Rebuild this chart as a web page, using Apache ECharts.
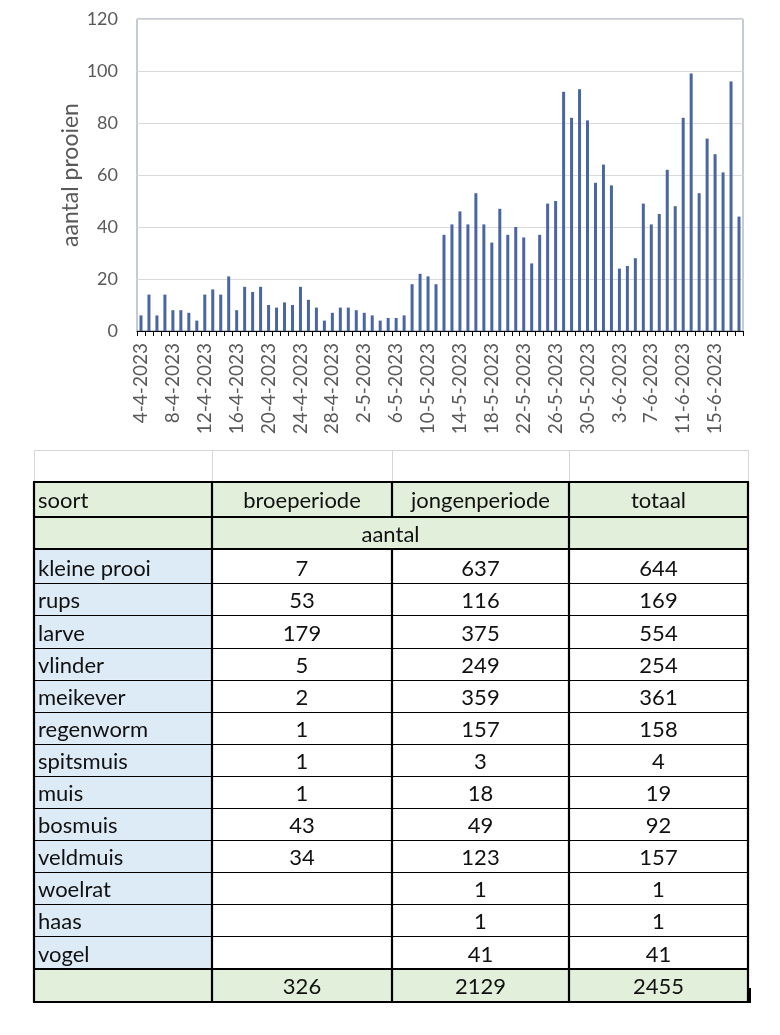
<!DOCTYPE html>
<html>
<head>
<meta charset="utf-8">
<script src="https://cdn.jsdelivr.net/npm/echarts@6/dist/echarts.min.js"></script>
<style>
html,body{margin:0;padding:0;background:#fff;}
#c{width:780px;height:1035px;}
</style>
</head>
<body>
<div id="c"></div>
<script>
// ---- chart data ----
const dates = [
'4-4-2023','5-4-2023','6-4-2023','7-4-2023','8-4-2023','9-4-2023','10-4-2023','11-4-2023','12-4-2023','13-4-2023',
'14-4-2023','15-4-2023','16-4-2023','17-4-2023','18-4-2023','19-4-2023','20-4-2023','21-4-2023','22-4-2023','23-4-2023',
'24-4-2023','25-4-2023','26-4-2023','27-4-2023','28-4-2023','29-4-2023','30-4-2023',
'1-5-2023','2-5-2023','3-5-2023','4-5-2023','5-5-2023','6-5-2023','7-5-2023','8-5-2023','9-5-2023','10-5-2023',
'11-5-2023','12-5-2023','13-5-2023','14-5-2023','15-5-2023','16-5-2023','17-5-2023','18-5-2023','19-5-2023','20-5-2023',
'21-5-2023','22-5-2023','23-5-2023','24-5-2023','25-5-2023','26-5-2023','27-5-2023','28-5-2023','29-5-2023','30-5-2023','31-5-2023',
'1-6-2023','2-6-2023','3-6-2023','4-6-2023','5-6-2023','6-6-2023','7-6-2023','8-6-2023','9-6-2023','10-6-2023',
'11-6-2023','12-6-2023','13-6-2023','14-6-2023','15-6-2023','16-6-2023','17-6-2023','18-6-2023'
];
const prooien = [
6,14,6,14,8,8,7,4,14,16,14,21,8,17,15,17,10,9,11,10,17,12,9,4,7,9,
9,8,7,6,4,5,5,6,
18,22,21,18,37,41,46,41,53,41,34,47,37,40,36,26,37,
49,50,92,82,93,81,57,64,56,24,25,28,49,41,45,62,48,82,99,53,74,68,61,96,44
];
const yTicks = {min:0, max:120, step:20};
const yTitle = 'aantal prooien';

// ---- table data ----
const tableHeader = ['soort','broeperiode','jongenperiode','totaal'];
const unitLabel = 'aantal';
const soort = ['kleine prooi','rups','larve','vlinder','meikever','regenworm','spitsmuis','muis','bosmuis','veldmuis','woelrat','haas','vogel'];
const broeperiode = [7,53,179,5,2,1,1,1,43,34,null,null,null];
const jongenperiode = [637,116,375,249,359,157,3,18,49,123,1,1,41];
const totaal = [644,169,554,254,361,158,4,19,92,157,1,1,41];
const totalen = [326,2129,2455];

// ---- table layout ----
const colX = [34, 212, 392, 569, 748];
const emptyTop = 450, headTop = 482, unitTop = 517, dataLine = 549;
const rowH = 32.1;
const dataTop = 551.2;
const totalTop = dataTop + soort.length * rowH;
const tableBottom = 1002;
const green = '#e2efda', blue = '#ddebf7';
const FONT = 'Lato, "Open Sans", sans-serif';
const tFont = '22px ' + FONT;

const G = [];
function rect(x, y, w, h, fill) { G.push({type:'rect', silent:true, shape:{x, y, width:w, height:h}, style:{fill}}); }
function line(x1, y1, x2, y2, stroke, lw) { G.push({type:'line', silent:true, shape:{x1, y1, x2, y2}, style:{stroke, lineWidth:lw}}); }
function text(x, y, s, align) { G.push({type:'text', silent:true, x, y, style:{text:String(s), font:tFont, fill:'#111', align, verticalAlign:'middle'}}); }

// fills
rect(colX[0], headTop, colX[4]-colX[0], dataLine-headTop, green);
for (let i = 0; i < soort.length; i++) {
  const y0 = i === 0 ? dataLine : dataTop + i*rowH;
  rect(colX[0], y0, colX[1]-colX[0], dataTop + (i+1)*rowH - y0, blue);
}
rect(colX[0], totalTop, colX[4]-colX[0], tableBottom-totalTop, green);

// empty row light grid
const grey = '#d6d6d6';
line(colX[0], emptyTop+0.5, colX[4], emptyTop+0.5, grey, 1);
colX.forEach(x => line(x+0.5, emptyTop, x+0.5, headTop, grey, 1));

// thin data row separators
for (let i = 1; i < soort.length; i++) {
  const y = Math.round(dataTop + i*rowH) + 0.5;
  line(colX[0], y, colX[4], y, '#000', 1);
}
// thick horizontals
[headTop, unitTop, dataLine, Math.round(totalTop), tableBottom].forEach(y => line(colX[0]-1, y, colX[4]+1, y, '#000', 2.2));
// thick verticals
[colX[0], colX[1], colX[3], colX[4]].forEach(x => line(x, headTop, x, tableBottom, '#000', 2.2));
line(colX[2], headTop, colX[2], unitTop, '#000', 2.2);
line(colX[2], dataLine, colX[2], tableBottom, '#000', 2.2);
rect(colX[4]-1, tableBottom-14, 4, 15, '#000');

// texts
const cx = i => (colX[i] + colX[i+1]) / 2;
const tx = colX[0] + 4;
text(tx, (headTop+unitTop)/2 + 1, tableHeader[0], 'left');
for (let c = 1; c < 4; c++) text(cx(c), (headTop+unitTop)/2 + 1, tableHeader[c], 'center');
text((colX[1]+colX[3])/2, (unitTop+dataLine)/2 + 1.5, unitLabel, 'center');
for (let i = 0; i < soort.length; i++) {
  const yc = dataTop + i*rowH + rowH/2 + 2;
  text(tx, yc, soort[i], 'left');
  if (broeperiode[i] != null) text(cx(1), yc, broeperiode[i], 'center');
  if (jongenperiode[i] != null) text(cx(2), yc, jongenperiode[i], 'center');
  if (totaal[i] != null) text(cx(3), yc, totaal[i], 'center');
}
for (let c = 0; c < 3; c++) text(cx(c+1), (totalTop+tableBottom)/2 + 1.5, totalen[c], 'center');

const chart = echarts.init(document.getElementById('c'), null, {renderer:'canvas'});
chart.setOption({
  animation: false,
  backgroundColor: '#fff',
  grid: {left:137, top:19, right:37, height:312, show:true, borderColor:'#8797ad', borderWidth:1, backgroundColor:'transparent'},
  xAxis: {
    type:'category', data:dates, boundaryGap:true,
    axisLine:{show:true, lineStyle:{color:'#000', width:1}},
    axisTick:{show:true, interval:0, length:5, lineStyle:{color:'#000'}},
    axisLabel:{interval:3, rotate:90, margin:12, color:'#595959', fontSize:19, fontFamily:FONT},
    splitLine:{show:false}
  },
  yAxis: {
    type:'value', min:yTicks.min, max:yTicks.max, interval:yTicks.step,
    name:yTitle, nameLocation:'middle', nameGap:55, nameRotate:90, nameMoveOverlap:false,
    nameTextStyle:{color:'#595959', fontSize:23, fontFamily:FONT},
    axisLine:{show:false}, axisTick:{show:false},
    axisLabel:{color:'#595959', fontSize:18, fontFamily:FONT, margin:19},
    splitLine:{show:true, lineStyle:{color:'#d9d9d9', width:1}}
  },
  series: [{type:'bar', data:prooien, barWidth:3, itemStyle:{color:'#4a66a0'}}],
  graphic: G
});
</script>
</body>
</html>
